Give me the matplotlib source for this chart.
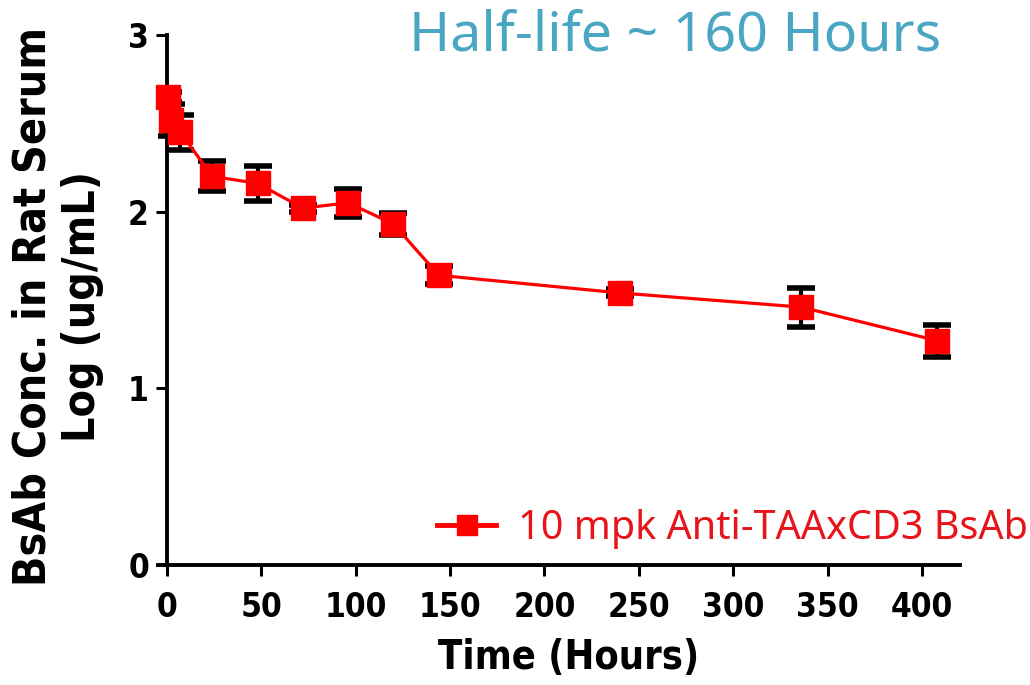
import numpy as np
import matplotlib.pyplot as plt
from matplotlib.lines import Line2D

# data
hours = [0.25, 2, 7, 24, 48, 72, 96, 120, 144, 240, 336, 408]
log_conc = [2.65, 2.52, 2.45, 2.20, 2.16, 2.02, 2.05, 1.93, 1.64, 1.54, 1.46, 1.27]
sem = [0.03, 0.09, 0.10, 0.085, 0.10, 0.02, 0.08, 0.06, 0.05, 0.02, 0.11, 0.09]

x_ticks = [0, 50, 100, 150, 200, 250, 300, 350, 400]
y_ticks = [0, 1, 2, 3]

title_txt = 'Half-life ~ 160 Hours'
legend_txt = '10 mpk Anti-TAAxCD3 BsAb'

ax_font = dict(family='DejaVu Sans', stretch='condensed', weight='bold')
note_font = ['Noto Sans', 'DejaVu Sans']

fig = plt.figure(figsize=(10.3, 6.85), dpi=100)
ax = fig.add_axes([157.6/1030, 120/685, 802/1030, 530/685])

ax.errorbar(hours, log_conc, yerr=sem, fmt='none', ecolor='black',
            elinewidth=3, capsize=10, capthick=4, zorder=2)
ax.plot(hours, log_conc, color='#ff0000', lw=2.3, marker='s', ms=17,
        mec='#ff0000', mfc='#ff0000', zorder=3, clip_on=False)

ax.set_xlim(-5, 420)
ax.set_ylim(0, 3)
ax.set_xticks(x_ticks)
ax.set_yticks(y_ticks)

for s in ['top', 'right']:
    ax.spines[s].set_visible(False)
ax.spines['left'].set_position(('data', 0))
ax.spines['left'].set_linewidth(2.8)
ax.spines['bottom'].set_linewidth(2.8)
ax.tick_params(direction='out', length=8, width=2.2)
ax.tick_params(axis='x', pad=11)
ax.tick_params(axis='y', pad=5)

for lab in ax.get_xticklabels() + ax.get_yticklabels():
    lab.set_fontproperties(dict(ax_font, size=24))

ax.set_xlabel('Time (Hours)', fontsize=28.5, labelpad=10, **ax_font)
ax.xaxis.label.set_x(0.513)
fig.text(58/1030, 1 - 307/685, 'BsAb Conc. in Rat Serum\nLog (ug/mL)', rotation=90,
         ha='center', va='center', multialignment='center',
         fontsize=32, linespacing=1.2, **ax_font)

fig.text(675/1030, 1 - 36/685, title_txt, ha='center', va='center',
         family=note_font, fontsize=40, color='#4aa6c2')

handle = Line2D([], [], color='#ff0000', lw=3.5, marker='s', ms=15)
leg = ax.legend([handle], [legend_txt], loc='center left', frameon=False,
                bbox_to_anchor=(437/1030, 1 - 529/685), bbox_transform=fig.transFigure,
                borderpad=0, borderaxespad=0,
                handlelength=1.5, handletextpad=0.55,
                prop={'family': note_font, 'size': 28.5})
for t in leg.get_texts():
    t.set_color('#e8141c')

fig.savefig('out.png', dpi=100)
